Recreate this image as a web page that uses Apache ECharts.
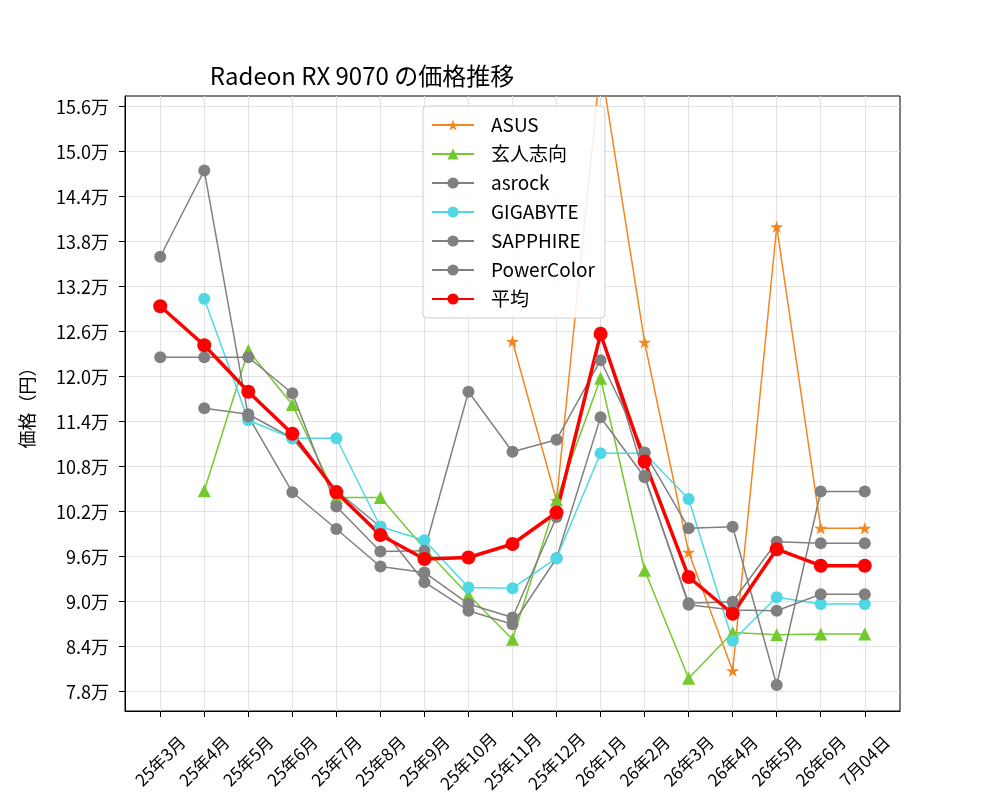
<!DOCTYPE html>
<html><head><meta charset="utf-8">
<script src="https://cdn.jsdelivr.net/npm/echarts@6/dist/echarts.min.js"></script>
<style>html,body{margin:0;padding:0;background:#fff}#c{width:1000px;height:800px}</style>
</head><body><div id="c"></div>
<script>
const categories = ['25年3月','25年4月','25年5月','25年6月','25年7月','25年8月','25年9月','25年10月','25年11月','25年12月','26年1月','26年2月','26年3月','26年4月','26年5月','26年6月','7月04日'];
const yTicks = [78000,84000,90000,96000,102000,108000,114000,120000,126000,132000,138000,144000,150000,156000];
const asus       = [null,null,null,null,null,null,null,null,124700,103500,161700,124600,96600,80800,140000,99800,99800];
const kurouto    = [null,104800,123500,116300,103900,103900,97100,90900,85000,103600,119800,94200,79800,85900,85600,85700,85700];
const asrock     = [null,115800,115000,111800,104800,100000,92600,88800,87000,95800,114600,106600,89800,90000,98000,97800,97800];
const gigabyte   = [null,130400,114200,111800,111800,100000,98200,91900,91800,95800,109800,109800,103700,84800,90600,89700,89700];
const sapphire   = [136000,147500,114700,104600,99700,94700,93900,89700,87900,101300,125900,106800,89600,88900,88800,91000,91000];
const powercolor = [122600,122600,122600,117800,102700,96700,96800,118000,110000,111600,122200,109900,99800,100000,78900,104700,104700];
const average    = [129400,124200,118000,112400,104600,98900,95700,95900,97700,101900,125700,108700,93300,88400,97000,94800,94800];

const FONT = '"Noto Sans CJK JP", "Noto Sans", sans-serif';
const STAR = 'path://M50,0 L61.23,34.55 L97.55,34.55 L68.17,55.9 L79.39,90.45 L50,69.1 L20.61,90.45 L31.83,55.9 L2.45,34.55 L38.77,34.55 Z';
const xTicks = categories.map((c, i) => i);
function pairs(arr) { const out = []; arr.forEach((v, i) => { if (v !== null) out.push([i, v]); }); return out; }
function mk(name, arr, color, symbol, size, width) {
  return {
    name, type: 'line', data: pairs(arr), symbol, symbolSize: size, symbolKeepAspect: true,
    lineStyle: { color, width }, itemStyle: { color, borderWidth: 0 },
    emphasis: { disabled: true }, animation: false
  };
}
const GRAY = '#808080';
const chart = echarts.init(document.getElementById('c'));
chart.setOption({
  backgroundColor: '#fff',
  animation: false,
  title: {
    text: 'Radeon RX 9070 の価格推移', left: 357, top: 59, textAlign: 'center',
    textStyle: { fontFamily: FONT, fontSize: 24, fontWeight: 'normal', color: '#000' }
  },
  legend: {
    orient: 'vertical', left: 423, top: 106, padding: [9, 10, 9, 8],
    itemWidth: 42, itemHeight: 14, itemGap: 9,
    backgroundColor: 'rgba(255,255,255,0.85)', borderColor: '#cccccc', borderWidth: 1, borderRadius: 4,
    textStyle: { fontFamily: FONT, fontSize: 19, color: '#000', padding: [0, 0, 0, 12], lineHeight: 20 },
    data: ['ASUS', '玄人志向', 'asrock', 'GIGABYTE', 'SAPPHIRE', 'PowerColor', '平均']
  },
  grid: { left: 125, right: 100, top: 96, bottom: 89, show: true, borderColor: '#000', borderWidth: 1, containLabel: false },
  xAxis: {
    type: 'value', min: -0.8, max: 16.8,
    axisLine: { onZero: false, lineStyle: { color: '#000', width: 1 } },
    axisTick: { customValues: xTicks, length: 6, lineStyle: { color: '#000' } },
    axisLabel: {
      customValues: xTicks, formatter: v => categories[Math.round(v)],
      rotate: 45, align: 'center', verticalAlign: 'middle', margin: 50,
      fontFamily: FONT, fontSize: 17, color: '#000'
    },
    splitLine: { show: true, lineStyle: { color: '#e2e2e2', width: 1 } }
  },
  yAxis: {
    type: 'value', min: 75430, max: 157430,
    name: '価格（円）', nameLocation: 'middle', nameGap: 89, nameRotate: 90,
    nameTextStyle: { fontFamily: FONT, fontSize: 18, color: '#000' },
    axisLine: { show: true, onZero: false, lineStyle: { color: '#000', width: 1 } },
    axisTick: { show: true, customValues: yTicks, length: 6, lineStyle: { color: '#000' } },
    axisLabel: {
      customValues: yTicks, formatter: v => (v / 10000).toFixed(1) + '万',
      margin: 16, fontFamily: FONT, fontSize: 18, color: '#000'
    },
    splitLine: { show: true, lineStyle: { color: '#e2e2e2', width: 1 } }
  },
  series: [
    mk('ASUS', asus, '#f5861f', STAR, 13, 1.5),
    mk('玄人志向', kurouto, '#74c92f', 'triangle', 13, 1.5),
    mk('asrock', asrock, GRAY, 'circle', 12, 1.5),
    mk('GIGABYTE', gigabyte, '#4fd7e6', 'circle', 12, 1.5),
    mk('SAPPHIRE', sapphire, GRAY, 'circle', 12, 1.5),
    mk('PowerColor', powercolor, GRAY, 'circle', 12, 1.5),
    mk('平均', average, '#ff0000', 'circle', 14, 3.5)
  ]
});
</script></body></html>
